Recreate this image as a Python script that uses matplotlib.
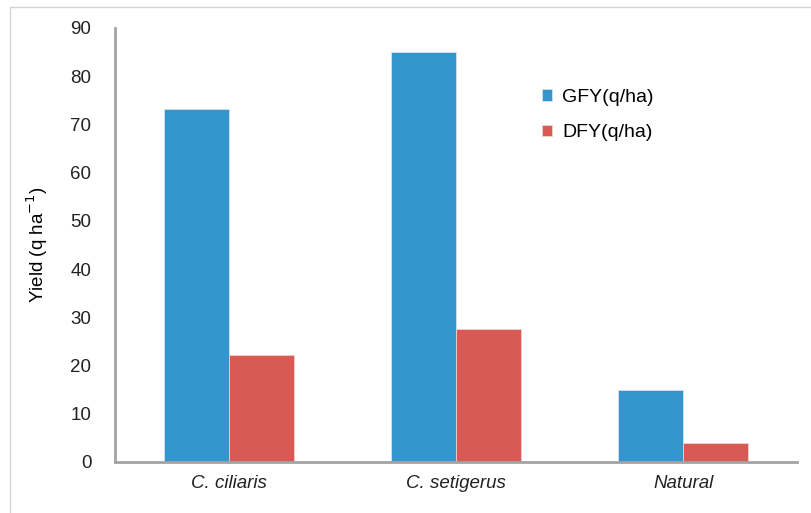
import matplotlib.pyplot as plt
import matplotlib.patches as mpatches
import numpy as np

categories = ["C. ciliaris", "C. setigerus", "Natural"]
gfy = [73.2, 85.0, 14.9]
dfy = [22.2, 27.6, 3.9]

blue = "#3596cd"
red = "#d95a55"
axis_grey = "#a3a3a6"
font = "Liberation Sans"

fig = plt.figure(figsize=(8.11, 5.13), dpi=100)

# thin outer frame
frame = mpatches.Rectangle((10 / 811, -0.1), 1.2, (513 - 7) / 513 + 0.1,
                           transform=fig.transFigure, fill=False,
                           edgecolor="#d4d4d4", linewidth=1.0)
fig.patches.append(frame)

ax = fig.add_axes([115 / 811, 1 - 462 / 513, (797 - 115) / 811, (462 - 28) / 513])

x = np.arange(len(categories))
w = 0.286
ax.bar(x - w / 2, gfy, w, color=blue, edgecolor="#cfe3f0", linewidth=0.6, label="GFY(q/ha)")
ax.bar(x + w / 2, dfy, w, color=red, edgecolor="#f0d0cf", linewidth=0.6, label="DFY(q/ha)")

ax.set_xlim(-0.5, 2.5)
ax.set_ylim(0, 90)
ax.set_yticks(range(0, 91, 10))
ax.set_xticks(x)
ax.set_xticklabels(categories, fontstyle="italic", fontsize=13.5, family=font)
for lab in ax.get_yticklabels():
    lab.set_fontsize(13.5)
    lab.set_family(font)
ax.tick_params(axis="both", length=0, colors="#222222")
ax.tick_params(axis="x", pad=9)
ax.tick_params(axis="y", pad=17)

for s in ["top", "right"]:
    ax.spines[s].set_visible(False)
for s in ["left", "bottom"]:
    ax.spines[s].set_color(axis_grey)
    ax.spines[s].set_linewidth(2)

ax.set_ylabel("Yield (q ha$^{-1}$)", fontsize=13.5, family=font, labelpad=15)

ax.legend(loc="upper left", bbox_to_anchor=(0.60, 0.90), frameon=False,
          prop={"family": font, "size": 14},
          handlelength=0.55, handleheight=0.55, handletextpad=0.5, labelspacing=0.95)

fig.savefig("out.png", dpi=100)
